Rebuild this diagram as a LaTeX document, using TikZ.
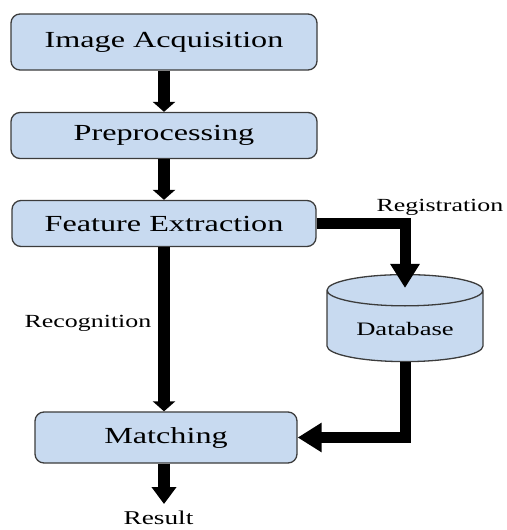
\documentclass[tikz,border=0pt]{standalone}
\usepackage{fontspec}
\setmainfont{Liberation Serif}[FakeStretch=1.4]
\usetikzlibrary{arrows.meta,shapes.geometric}
\definecolor{boxfill}{RGB}{200,218,240}
\definecolor{boxline}{RGB}{60,60,60}

\begin{document}
\begin{tikzpicture}[
  x=1pt, y=-1pt,
  stage/.style={
    draw=boxline, fill=boxfill, line width=1.3pt,
    rounded corners=9pt, inner sep=0pt,
    minimum width=306pt, minimum height=46pt,
    font=\fontsize{23}{26}\selectfont,
  },
  store/.style={
    cylinder, shape border rotate=90, aspect=0.3,
    draw=boxline, fill=boxfill, line width=1.3pt,
    minimum width=156pt, minimum height=87pt,
    font=\fontsize{19}{22}\selectfont,
  },
  flow/.style={line width=12pt, -{Triangle[length=10pt, width=22pt]}},
  bigflow/.style={line width=11pt, -{Triangle[length=24pt, width=28pt]}},
  lbl/.style={font=\fontsize{18.5}{21}\selectfont},
]
\useasboundingbox (0,0) rectangle (506,530);

% -- pipeline stages ---------------------------------------
\node[stage, minimum height=56pt] (acq) at (164,42) {Image Acquisition};
\node[stage] (pre) at (164,135.5) {Preprocessing};
\node[stage, minimum width=304pt] (feat) at (164,223.5) {Feature Extraction};
\node[stage, minimum width=262pt, minimum height=51pt] (match) at (166,437.5) {Matching};

% -- database ----------------------------------------------
\node[store] (db) at (405,328.5) {Database};

% -- main chain --------------------------------------------
\draw[flow] (acq) -- (pre);
\draw[flow] (pre) -- (feat);
\draw[flow] (feat) -- (feat |- match.north);
\node[lbl] (recog) at (88,323) {Recognition};

% -- registration branch -----------------------------------
\draw[bigflow] (feat.east) -| ([yshift=-14pt]db.top);
\node[lbl] (regis) at (440,207) {Registration};
\draw[bigflow] (db.bottom) |- (match.east);

% -- result ------------------------------------------------
\coordinate (res) at (164,504);
\draw[flow, -{Triangle[length=17pt, width=24pt]}] (match.south -| res) -- (res);
\node[lbl, font=\fontsize{19.5}{22}\selectfont] (restxt) at (158.5,517.5) {Result};

\end{tikzpicture}
\end{document}
